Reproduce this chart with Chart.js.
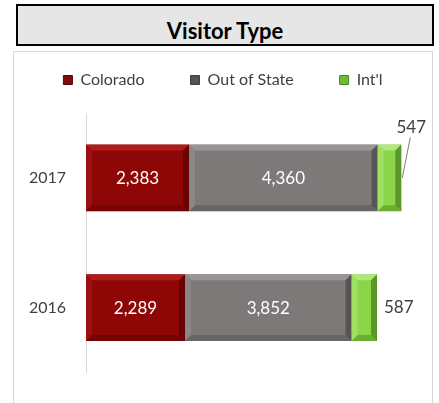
<!DOCTYPE html>
<html>
<head>
<meta charset="utf-8">
<script src="https://cdn.jsdelivr.net/npm/chart.js@4"></script>
<style>
  body { margin: 0; background: #fff; font-family: Lato, 'Open Sans', sans-serif; }
  #title {
    position: absolute; left: 16px; top: 4px; width: 414px; height: 38px;
    border: 2px solid #000; background: #e6e6e6;
    font-weight: bold; font-size: 22px; text-align: center; line-height: 49px; color: #000;
    overflow: hidden;
  }
  #wrap {
    position: absolute; left: 13px; top: 51px; width: 418px; height: 360px;
    border: 1px solid #d9d9d9; background: #fff;
  }
  #chart { position: absolute; left: 0; top: -40px; }
</style>
</head>
<body>
<div id="title">Visitor Type</div>
<div id="wrap"><canvas id="chart" width="418" height="390"></canvas></div>
<script>
const years = ['2017', '2016'];
const colorado = [2383, 2289];
const outOfState = [4360, 3852];
const intl = [547, 587];

const FONT = "Lato, 'Open Sans', sans-serif";

function shade(ctx, pts, color) {
    ctx.beginPath();
    ctx.moveTo(pts[0][0], pts[0][1]);
    for (let i = 1; i < pts.length; i++) ctx.lineTo(pts[i][0], pts[i][1]);
    ctx.closePath();
    ctx.fillStyle = color;
    ctx.fill();
}

// Excel-style bevel and value labels
const bevelLabels = {
    id: 'bevelLabels',
    afterDatasetsDraw(chart) {
        const ctx = chart.ctx;
        ctx.save();
        chart.data.datasets.forEach((ds, di) => {
            const meta = chart.getDatasetMeta(di);
            meta.data.forEach((bar, i) => {
                const x0 = Math.min(bar.base, bar.x), x1 = Math.max(bar.base, bar.x);
                const y0 = bar.y - bar.height / 2, y1 = bar.y + bar.height / 2;
                const b = 6;
                shade(ctx, [[x0, y0], [x1, y0], [x1 - b, y0 + b], [x0 + b, y0 + b]], ds.bevelTop);
                shade(ctx, [[x0, y0], [x0 + b, y0 + b], [x0 + b, y1 - b], [x0, y1]], ds.bevelLeft);
                shade(ctx, [[x0, y1], [x0 + b, y1 - b], [x1 - b, y1 - b], [x1, y1]], ds.bevelBottom);
                shade(ctx, [[x1, y0], [x1, y1], [x1 - b, y1 - b], [x1 - b, y0 + b]], ds.bevelRight);

                const txt = ds.data[i].toLocaleString('en-US');
                ctx.font = '17px ' + FONT;
                ctx.textBaseline = 'middle';
                if (di < 2) {
                    ctx.fillStyle = '#fff';
                    ctx.textAlign = 'center';
                    ctx.fillText(txt, (x0 + x1) / 2, bar.y + 1);
                } else if (i === 0) {
                    ctx.strokeStyle = '#7f7f7f';
                    ctx.lineWidth = 1;
                    ctx.beginPath();
                    ctx.moveTo(x1 + 1, bar.y);
                    ctx.lineTo(x1 + 9, y0 - 7);
                    ctx.stroke();
                    ctx.fillStyle = '#404040';
                    ctx.textAlign = 'center';
                    ctx.fillText(txt, x1 + 10, y0 - 17);
                } else {
                    ctx.fillStyle = '#404040';
                    ctx.textAlign = 'left';
                    ctx.fillText(txt, x1 + 7, bar.y);
                }
            });
        });
        ctx.restore();
    }
};

new Chart(document.getElementById('chart'), {
    type: 'bar',
    data: {
        labels: years,
        datasets: [
            {
                label: 'Colorado', data: colorado,
                backgroundColor: '#8e0606', borderColor: '#6a0606', borderWidth: 1,
                bevelTop: '#ae1c1c', bevelLeft: '#9c1010', bevelBottom: '#760404', bevelRight: '#680303',
            },
            {
                label: 'Out of State', data: outOfState,
                backgroundColor: '#7d7979', borderColor: '#5e5a5a', borderWidth: 1,
                bevelTop: '#999595', bevelLeft: '#8b8787', bevelBottom: '#696565', bevelRight: '#585454',
            },
            {
                label: "Int'l", data: intl,
                backgroundColor: '#8ad548', borderColor: '#5c8f2e', borderWidth: 1,
                bevelTop: '#aee97a', bevelLeft: '#9fe062', bevelBottom: '#6cae34', bevelRight: '#5a962a',
            },
        ],
    },
    options: {
        indexAxis: 'y',
        responsive: false,
        animation: false,
        layout: { padding: { left: 0, right: 0, top: 14, bottom: 21 } },
        datasets: { bar: { categoryPercentage: 1, barPercentage: 0.515, borderSkipped: false } },
        plugins: {
            legend: {
                position: 'top',
                labels: {
                    font: { family: FONT, size: 16 },
                    color: '#404040',
                    boxWidth: 9,
                    boxHeight: 9,
                    padding: 46,
                    generateLabels: (chart) => chart.data.datasets.map((ds, i) => ({
                        text: ds.label,
                        fillStyle: ['#7b0c0c', '#555353', '#6dbd3c'][i],
                        strokeStyle: ['#5a0606', '#3e3c3c', '#4a8a24'][i],
                        lineWidth: 1,
                        fontColor: '#404040',
                        datasetIndex: i,
                    })),
                },
            },
            tooltip: { enabled: false },
        },
        scales: {
            x: {
                stacked: true, min: 0, max: 8000, position: 'top',
                grid: { display: false, drawTicks: false },
                border: { display: false },
                ticks: { display: false },
                afterFit: (scale) => { scale.height = 15; },
            },
            y: {
                stacked: true,
                grid: { display: false, drawTicks: false },
                border: { display: true, color: '#d9d9d9' },
                ticks: { font: { family: FONT, size: 16 }, color: '#404040', padding: 20 },
                afterFit: (scale) => { scale.width = 72; },
            },
        },
    },
    plugins: [bevelLabels],
});
</script>
</body>
</html>
